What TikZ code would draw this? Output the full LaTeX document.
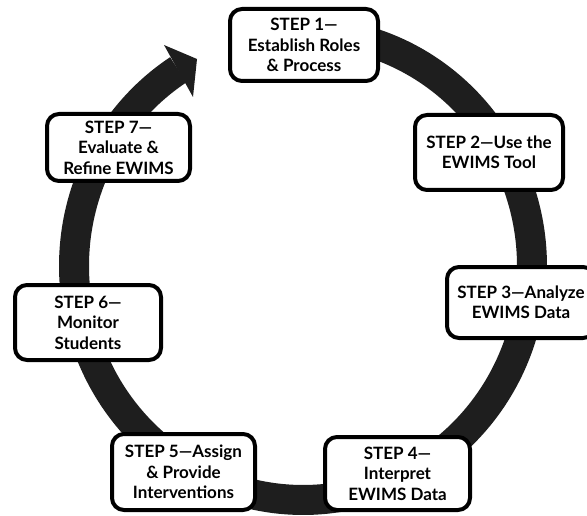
\documentclass[tikz,border=0pt]{standalone}
\usepackage{fontspec}
\setmainfont{Lato}
\definecolor{bandc}{HTML}{1E1E1E}
\tikzset{
  stepbox/.style={draw=black, line width=4pt, fill=white, rounded corners=12pt,
    align=center, inner sep=2pt,
    font=\fontsize{17}{20.5}\selectfont\bfseries},
  band/.style={fill=bandc, draw=none}
}
\begin{document}
\begin{tikzpicture}[x=1pt,y=-1pt]
\useasboundingbox (0,0) rectangle (587,516);
\clip (0,0) rectangle (587,516);
% circular band (clockwise on the page), centre (303,266)
\path[band] plot[domain=-95:237, samples=200, smooth] ({303+244*cos(\x)},{266+249*sin(\x)})
  -- plot[domain=237:-95, samples=200, smooth] ({303+214*cos(\x)},{266+219*sin(\x)})
  -- cycle;
% arrowhead
\coordinate (hb1) at (164,45);
\coordinate (htip) at (197,59);
\coordinate (hb2) at (193,97);
\path[band] (hb1) -- (htip) -- (hb2) -- cycle;
% steps
\node[stepbox, minimum width=148pt, minimum height=72pt] (s1) at (304,45)
  {STEP 1—\\Establish Roles\\\& Process};
\node[stepbox, minimum width=148pt, minimum height=75pt] (s2) at (489,152.5)
  {STEP 2—Use the\\EWIMS Tool};
\node[stepbox, minimum width=148pt, minimum height=71pt] (s3) at (521,302.5)
  {STEP 3—Analyze\\EWIMS Data};
\node[stepbox, minimum width=145pt, minimum height=73pt] (s4) at (397.5,473.5)
  {STEP 4—\\Interpret\\EWIMS Data};
\node[stepbox, minimum width=143pt, minimum height=76pt] (s5) at (183.5,472)
  {STEP 5—Assign\\\& Provide\\Interventions};
\node[stepbox, minimum width=146pt, minimum height=75pt] (s6) at (88,322.5)
  {STEP 6—\\Monitor\\Students};
\node[stepbox, minimum width=143pt, minimum height=67pt] (s7) at (118.5,147.5)
  {STEP 7—\\Evaluate \&\\Refine EWIMS};
\end{tikzpicture}
\end{document}
